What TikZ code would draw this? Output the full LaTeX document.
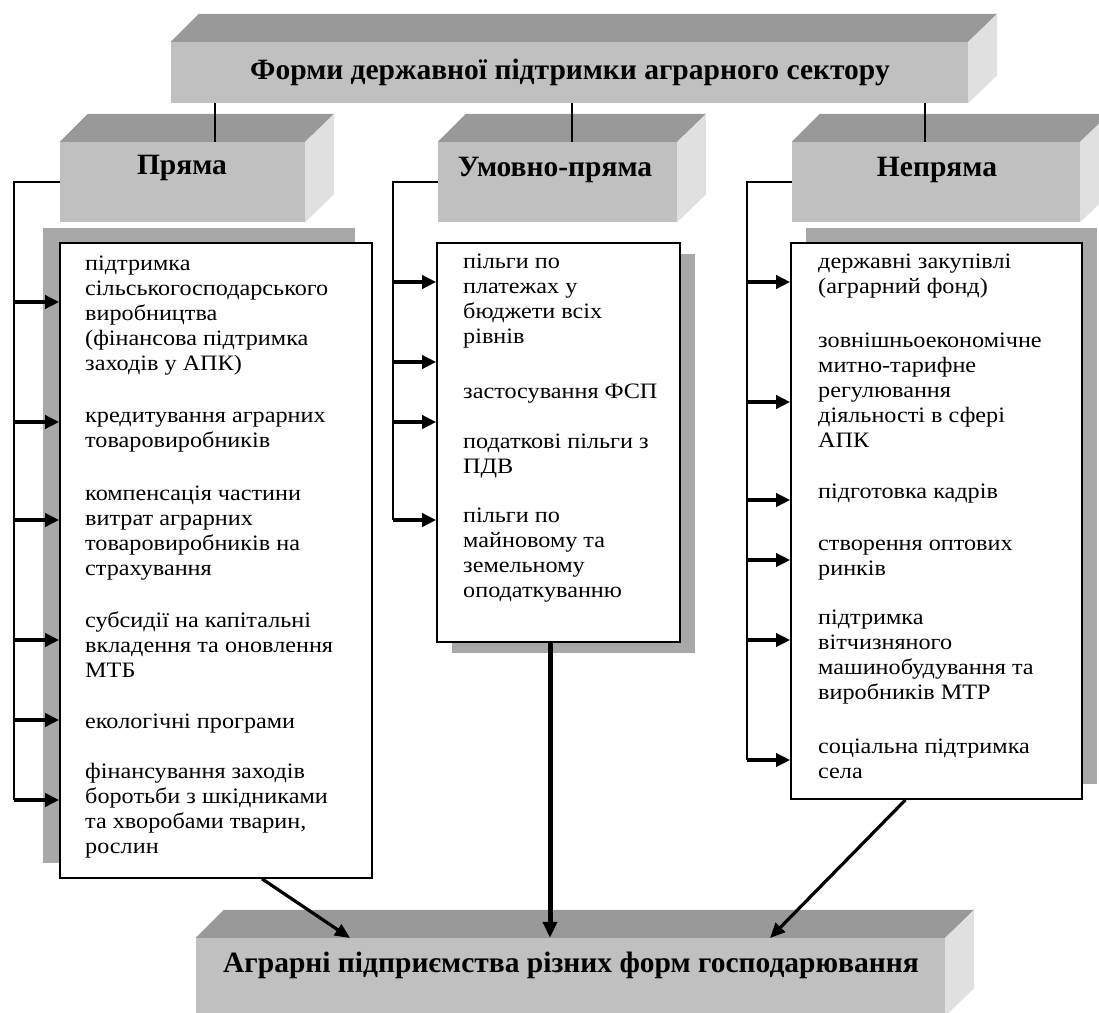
\documentclass[tikz,border=0pt]{standalone}
\usepackage{fontspec}
\setmainfont{Liberation Serif}
\newfontfamily\bodyfont{Liberation Serif}[FakeStretch=1.1]
\usetikzlibrary{calc,arrows.meta,shadows}

\definecolor{facefront}{RGB}{192,192,192}
\definecolor{facetop}{RGB}{153,153,153}
\definecolor{faceside}{RGB}{224,224,224}
\definecolor{shadecol}{RGB}{168,168,168}

\newcommand\cubefaces[1]{%
  \fill[facetop] (#1.north west) -- ++(28,-28) -- ($(#1.north east)+(29,-28)$) -- (#1.north east) -- cycle;
  \fill[faceside] (#1.north east) -- ++(29,-28) -- ($(#1.south east)+(29,-28)$) -- (#1.south east) -- cycle;}

\tikzset{
  frontface/.style={fill=facefront, draw=none, inner sep=0pt},
  headtxt/.style={font=\bfseries\fontsize{29.5}{31}\selectfont, inner sep=0pt},
  itembox/.style={draw=black, line width=1.6pt, fill=white},
  item/.style={anchor=north west, inner sep=0pt, align=left,
    font=\bodyfont\fontsize{22}{25}\selectfont},
  link/.style={draw=black, line width=1.6pt},
  arr/.style={draw=black, line width=3.5pt, -{Triangle[length=14pt,width=13pt]}},
  bigarr/.style={draw=black, line width=5pt, -{Triangle[length=16pt,width=14pt]}},
  diagarr/.style={draw=black, line width=3.2pt, -{Triangle[length=15pt,width=13pt]}},
}

\begin{document}
\begin{tikzpicture}[x=1pt,y=-1pt]
\useasboundingbox (0,0) rectangle (1099,1012);
\clip (0,0) rectangle (1099,1012);

% ---- title cuboid
\node[frontface, minimum width=797pt, minimum height=61pt] (title) at (569.5,72.5) {};
\cubefaces{title}
\node[headtxt] (titletxt) at (570,72) {Форми державної підтримки аграрного сектору};

% ---- three category cuboids
\node[frontface, minimum width=245pt, minimum height=80pt] (pr) at (182.5,182) {};
\node[frontface, minimum width=239pt, minimum height=80pt] (um) at (557.5,182) {};
\node[frontface, minimum width=288pt, minimum height=80pt] (np) at (936,182) {};
\cubefaces{pr}
\cubefaces{um}
\cubefaces{np}

% connectors from title
\coordinate (c1) at (215,0);
\coordinate (c2) at (572,0);
\coordinate (c3) at (925,0);
\draw[link] (title.south -| c1) -- (pr.north -| c1);
\draw[link] (title.south -| c2) -- (um.north -| c2);
\draw[link] (title.south -| c3) -- (np.north -| c3);

\node[headtxt] (prtxt) at (182,168) {Пряма};
\node[headtxt] (umtxt) at (555,170) {Умовно-пряма};
\node[headtxt] (nptxt) at (937,170) {Непряма};

% ---- list boxes with shadows
\node[itembox, minimum width=312pt, minimum height=635pt,
  general shadow={fill=shadecol, shadow xshift=-17pt, shadow yshift=15pt}] (lbox) at (216,560.5) {};
\node[itembox, minimum width=243pt, minimum height=399pt,
  general shadow={fill=shadecol, shadow xshift=15pt, shadow yshift=-11pt}] (mbox) at (558.5,442.5) {};
\node[itembox, minimum width=291pt, minimum height=556pt,
  general shadow={fill=shadecol, shadow xshift=15pt, shadow yshift=15pt}] (rbox) at (936.5,521) {};

% ---- left items
\node[item] (l1) at (85,253) {\rule{0pt}{17pt}підтримка\\сільськогосподарського\\виробництва\\(фінансова підтримка\\заходів у АПК)};
\node[item] (l2) at (85,405) {\rule{0pt}{17pt}кредитування аграрних\\товаровиробників};
\node[item] (l3) at (85,483) {\rule{0pt}{17pt}компенсація частини\\витрат аграрних\\товаровиробників на\\страхування};
\node[item] (l4) at (85,610) {\rule{0pt}{17pt}субсидії на капітальні\\вкладення та оновлення\\МТБ};
\node[item] (l5) at (85,711) {\rule{0pt}{17pt}екологічні програми};
\node[item] (l6) at (85,761) {\rule{0pt}{17pt}фінансування заходів\\боротьби з шкідниками\\та хворобами тварин,\\рослин};

% ---- middle items
\node[item] (m1) at (463,251) {\rule{0pt}{17pt}пільги по\\платежах у\\бюджети всіх\\рівнів};
\node[item] (m2) at (463,381) {\rule{0pt}{17pt}застосування ФСП};
\node[item] (m3) at (463,431) {\rule{0pt}{17pt}податкові пільги з\\ПДВ};
\node[item] (m4) at (463,505) {\rule{0pt}{17pt}пільги по\\майновому та\\земельному\\оподаткуванню};

% ---- right items
\node[item] (r1) at (818,251) {\rule{0pt}{17pt}державні закупівлі\\(аграрний фонд)};
\node[item] (r2) at (818,330) {\rule{0pt}{17pt}зовнішньоекономічне\\митно-тарифне\\регулювання\\діяльності в сфері\\АПК};
\node[item] (r3) at (818,481) {\rule{0pt}{17pt}підготовка кадрів};
\node[item] (r4) at (818,533) {\rule{0pt}{17pt}створення оптових\\ринків};
\node[item] (r5) at (818,607) {\rule{0pt}{17pt}підтримка\\вітчизняного\\машинобудування та\\виробників МТР};
\node[item] (r6) at (818,736) {\rule{0pt}{17pt}соціальна підтримка\\села};

% ---- rails and arrows
\coordinate (lrail) at (14,800);
\draw[link] (pr.west) -| (lrail);
\foreach \yy [count=\i] in {302,422,520,640,720,800}{
  \coordinate (la\i) at (14,\yy);
  \draw[arr] (la\i) -- (la\i -| lbox.west);
}
\coordinate (mrail) at (393,520);
\draw[link] (um.west) -| (mrail);
\foreach \yy [count=\i] in {282,362,422,520}{
  \coordinate (ma\i) at (393,\yy);
  \draw[arr] (ma\i) -- (ma\i -| mbox.west);
}
\coordinate (rrail) at (747,760);
\draw[link] (np.west) -| (rrail);
\foreach \yy [count=\i] in {282,402,500,560,640,760}{
  \coordinate (ra\i) at (747,\yy);
  \draw[arr] (ra\i) -- (ra\i -| rbox.west);
}

% ---- bottom cuboid
\node[frontface, minimum width=749pt, minimum height=78pt] (bot) at (570.5,977) {};
\cubefaces{bot}
\node[headtxt] (bottxt) at (571,965) {Аграрні підприємства різних форм господарювання};

% ---- arrows to bottom
\coordinate (ls) at ($(lbox.south)+(46,0)$);
\coordinate (lt) at (350,938);
\draw[diagarr] (ls) -- (lt);
\coordinate (mx) at (550,0);
\draw[bigarr] (mbox.south -| mx) -- (bot.north -| mx);
\coordinate (rs) at ($(rbox.south)+(-31,0)$);
\coordinate (rt) at (770,938);
\draw[diagarr] (rs) -- (rt);
\end{tikzpicture}
\end{document}
